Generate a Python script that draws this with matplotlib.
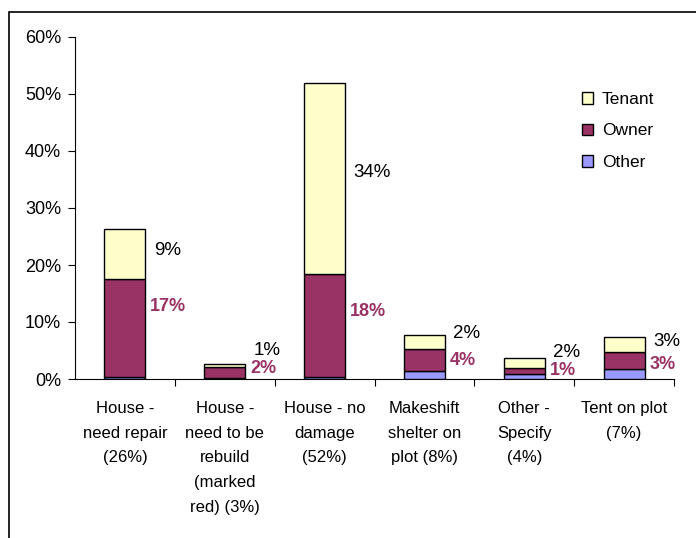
import matplotlib
matplotlib.use("Agg")
import matplotlib.pyplot as plt
from matplotlib.patches import Rectangle
from matplotlib.ticker import FixedLocator, PercentFormatter
from matplotlib.transforms import offset_copy
import numpy as np

plt.rcParams['font.family'] = ['Liberation Sans', 'DejaVu Sans']

categories = [
    "House -\nneed repair\n(26%)",
    "House -\nneed to be\nrebuild\n(marked\nred) (3%)",
    "House - no\ndamage\n(52%)",
    "Makeshift\nshelter on\nplot (8%)",
    "Other -\nSpecify\n(4%)",
    "Tent on plot\n(7%)",
]
other = [0.3, 0.1, 0.3, 1.4, 0.8, 1.7]
owner = [17.3, 1.95, 18.1, 3.9, 1.05, 3.0]
tenant = [8.8, 0.55, 33.6, 2.4, 1.8, 2.6]
tenant_labels = ["9%", "1%", "34%", "2%", "2%", "3%"]
owner_labels = ["17%", "2%", "18%", "4%", "1%", "3%"]
y_ticks = [0, 10, 20, 30, 40, 50, 60]

# label placement (layout) relative to segment centres, in % units
tenant_label_dy = [0.6, 2.6, 1.1, 1.4, 1.9, 0.65]
owner_label_dy = [3.85, 0.68, 2.55, -0.05, 0.08, -0.6]

c_tenant = "#FFFFCC"
c_owner = "#993366"
c_other = "#9999FF"

fig = plt.figure(figsize=(6.96, 5.38), dpi=100)
ax = fig.add_axes([75/696, 1-379/538, (674-75)/696, (379-37)/538])

x = np.arange(len(categories))
w = 0.41
other_a = np.array(other)
owner_a = np.array(owner)
tenant_a = np.array(tenant)

ax.bar(x, other_a, w, color=c_other, edgecolor="black", linewidth=1.0, label="Other", zorder=3)
ax.bar(x, owner_a, w, bottom=other_a, color=c_owner, edgecolor="black", linewidth=1.0, label="Owner", zorder=3)
ax.bar(x, tenant_a, w, bottom=other_a + owner_a, color=c_tenant, edgecolor="black", linewidth=1.0, label="Tenant", zorder=3)

tr_t = offset_copy(ax.transData, fig=fig, x=6.0, y=0, units='points')
tr_o = offset_copy(ax.transData, fig=fig, x=3.5, y=0, units='points')
for i in range(len(x)):
    ymid_t = other_a[i] + owner_a[i] + tenant_a[i] / 2 + tenant_label_dy[i]
    ymid_o = other_a[i] + owner_a[i] / 2 + owner_label_dy[i]
    ax.text(x[i] + w/2, ymid_t, tenant_labels[i], transform=tr_t, ha="left", va="center",
            fontsize=13.5, color="black")
    ax.text(x[i] + w/2, ymid_o, owner_labels[i], transform=tr_o, ha="left", va="center",
            fontsize=13, color=c_owner, fontweight="bold")

ax.set_xlim(-0.5, len(categories) - 0.5)
ax.set_ylim(0, 60)
ax.set_yticks(y_ticks)
ax.yaxis.set_major_formatter(PercentFormatter(decimals=0))
ax.tick_params(axis="y", direction="out", length=5, width=0.8, labelsize=13, pad=5)

ax.set_xticks(x)
ax.set_xticklabels(categories, fontsize=12, linespacing=1.8)
ax.tick_params(axis="x", which="major", length=0, pad=16)
ax.xaxis.set_minor_locator(FixedLocator(np.arange(0.5, len(categories), 1.0)))
ax.tick_params(axis="x", which="minor", direction="out", length=5, width=0.8)

for s in ["top", "right"]:
    ax.spines[s].set_visible(False)
for s in ["left", "bottom"]:
    ax.spines[s].set_linewidth(0.8)

handles, labels = ax.get_legend_handles_labels()
leg = ax.legend(handles[::-1], labels[::-1], loc="upper left", bbox_to_anchor=(0.82, 0.885),
                frameon=False, fontsize=12.5, handlelength=0.65, handleheight=0.65,
                handletextpad=0.5, labelspacing=0.95)

# outer chart border
fig.add_artist(Rectangle((9/696, -0.05), 1.2, 1 - 12/538 + 0.05, transform=fig.transFigure,
                         fill=False, edgecolor="black", linewidth=1.2))

fig.savefig("out.png", dpi=100)
